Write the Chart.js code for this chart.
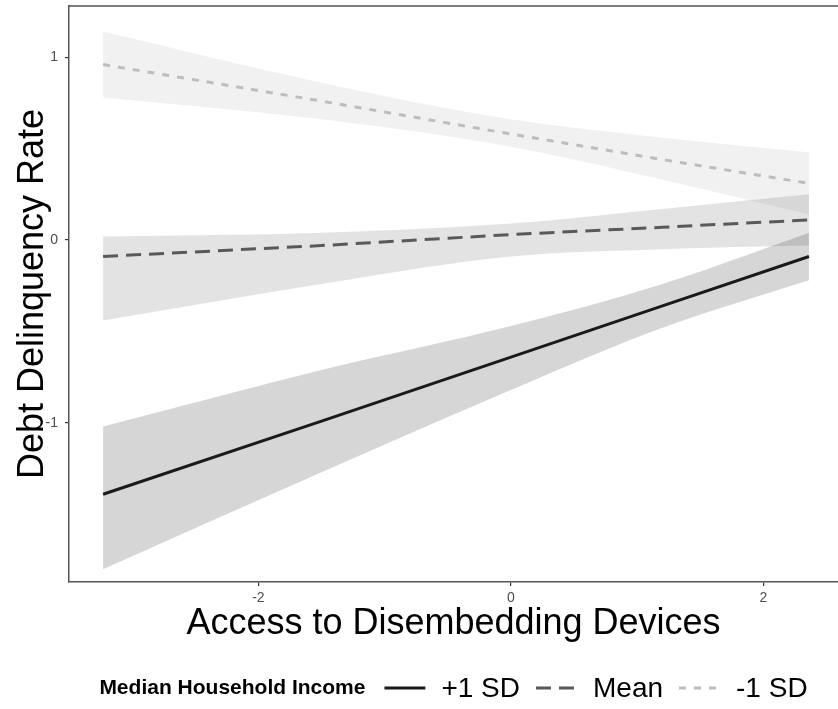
<!DOCTYPE html>
<html lang="en">
<head>
<meta charset="UTF-8">
<title>Debt Delinquency Rate</title>
<style>
  body { margin: 0; background: #fff; }
  #wrap { width: 838px; height: 709px; }
</style>
</head>
<body>
<div id="wrap"><canvas id="chart" width="838" height="709"></canvas></div>
<script src="https://cdn.jsdelivr.net/npm/chart.js"></script>
<script>
// values
const xPoints = [-3.23, -1.5, 0, 1.2, 2.36];

const highLine  = [-1.39, -0.99, -0.64, -0.36, -0.09];
const highLower = [-1.80, -1.27, -0.82, -0.48, -0.22];
const highUpper = [-1.02, -0.71, -0.47, -0.24, 0.04];

const meanLine  = [-0.09, -0.03, 0.03, 0.07, 0.11];
const meanLower = [-0.44, -0.24, -0.09, -0.05, -0.03];
const meanUpper = [0.02, 0.04, 0.09, 0.17, 0.25];

const lowLine  = [0.96, 0.76, 0.58, 0.44, 0.31];
const lowLower = [0.78, 0.66, 0.51, 0.33, 0.14];
const lowUpper = [1.14, 0.86, 0.66, 0.56, 0.48];

const xTicks = [-2, 0, 2];
const yTicks = [-1, 0, 1];

const legendTitle = 'Median Household Income';
const seriesNames = ['+1 SD', 'Mean', '-1 SD'];

const font = "'Liberation Sans', Arial, sans-serif";

function pts(ys) {
    return xPoints.map((x, i) => ({ x: x, y: ys[i] }));
}

function bandSets(upper, lower, color) {
    return [
        { data: pts(upper), borderWidth: 0, pointRadius: 0, backgroundColor: color,
          fill: '+1', order: 2, cubicInterpolationMode: 'monotone' },
        { data: pts(lower), borderWidth: 0, pointRadius: 0, fill: false, order: 2,
          cubicInterpolationMode: 'monotone' }
    ];
}

function lineSet(ys, color, dash, name) {
    return { data: pts(ys), borderColor: color, borderWidth: 3, borderDash: dash,
             pointRadius: 0, fill: false, order: 0, legendLabel: name };
}

const datasets = [
    ...bandSets(lowUpper, lowLower, 'rgba(0,0,0,0.055)'),
    ...bandSets(meanUpper, meanLower, 'rgba(0,0,0,0.11)'),
    ...bandSets(highUpper, highLower, 'rgba(0,0,0,0.16)'),
    lineSet(highLine, '#1a1a1a', [], seriesNames[0]),
    lineSet(meanLine, '#595959', [15, 8], seriesNames[1]),
    lineSet(lowLine, '#bdbdbd', [7, 8], seriesNames[2])
];

// top border of the panel + the legend row under the chart
const framePlugin = {
    id: 'frame',
    afterDraw(chart) {
        const ctx = chart.ctx;
        const a = chart.chartArea;
        ctx.save();
        ctx.strokeStyle = '#555';
        ctx.lineWidth = 1.5;
        ctx.beginPath();
        ctx.moveTo(a.left, a.top);
        ctx.lineTo(a.right, a.top);
        ctx.stroke();

        const items = chart.data.datasets.filter(d => d.legendLabel);
        const sample = 41, gapTitle = 19, gapSample = 16, gapLabel = 16;
        const titleFont = 'bold 21px ' + font;
        const labelFont = '28px ' + font;
        ctx.font = titleFont;
        const titleW = ctx.measureText(legendTitle).width;
        ctx.font = labelFont;
        let total = titleW + gapTitle;
        items.forEach((d, i) => {
            total += sample + gapSample + ctx.measureText(d.legendLabel).width;
            if (i < items.length - 1) total += gapLabel;
        });
        let x = (a.left + a.right) / 2 - total / 2;
        const y = 688;
        ctx.textBaseline = 'middle';
        ctx.fillStyle = '#000';
        ctx.font = titleFont;
        ctx.fillText(legendTitle, x, y);
        x += titleW + gapTitle;
        ctx.font = labelFont;
        items.forEach(d => {
            ctx.strokeStyle = d.borderColor;
            ctx.lineWidth = 3;
            ctx.setLineDash(d.borderDash);
            ctx.beginPath();
            ctx.moveTo(x, y);
            ctx.lineTo(x + sample, y);
            ctx.stroke();
            ctx.setLineDash([]);
            x += sample + gapSample;
            ctx.fillStyle = '#000';
            ctx.fillText(d.legendLabel, x, y + 1);
            x += ctx.measureText(d.legendLabel).width + gapLabel;
        });
        ctx.restore();
    }
};

const ctx = document.getElementById('chart').getContext('2d');
new Chart(ctx, {
    type: 'line',
    data: { datasets: datasets },
    options: {
        responsive: false,
        animation: false,
        devicePixelRatio: 1,
        layout: { padding: { top: 6, right: 0, bottom: 63, left: 0 } },
        plugins: {
            legend: { display: false },
            tooltip: { enabled: false }
        },
        scales: {
            x: {
                type: 'linear',
                min: -3.5,
                max: 2.59,
                afterBuildTicks: s => { s.ticks = xTicks.map(v => ({ value: v })); },
                afterFit: s => { s.height = 64; s.paddingLeft = 0; s.paddingRight = 0; },
                grid: { drawOnChartArea: false, tickLength: 4, color: '#333', lineWidth: 1.2 },
                border: { display: true, color: '#555', width: 1.5 },
                ticks: { color: '#4d4d4d', font: { family: font, size: 14 }, padding: 4, maxRotation: 0 },
                title: { display: true, text: 'Access to Disembedding Devices', color: '#000',
                         font: { family: font, size: 36 }, padding: 0 }
            },
            y: {
                min: -1.87,
                max: 1.28,
                afterBuildTicks: s => { s.ticks = yTicks.map(v => ({ value: v })); },
                afterFit: s => { s.width = 69; s.paddingTop = 0; s.paddingBottom = 0; },
                grid: { drawOnChartArea: false, tickLength: 4, color: '#333', lineWidth: 1.2 },
                border: { display: true, color: '#555', width: 1.5 },
                ticks: { color: '#4d4d4d', font: { family: font, size: 14 }, padding: 7 },
                title: { display: true, text: 'Debt Delinquency Rate', color: '#000',
                         font: { family: font, size: 36 }, padding: { top: 11, bottom: 0 } }
            }
        }
    },
    plugins: [framePlugin]
});
</script>
</body>
</html>
